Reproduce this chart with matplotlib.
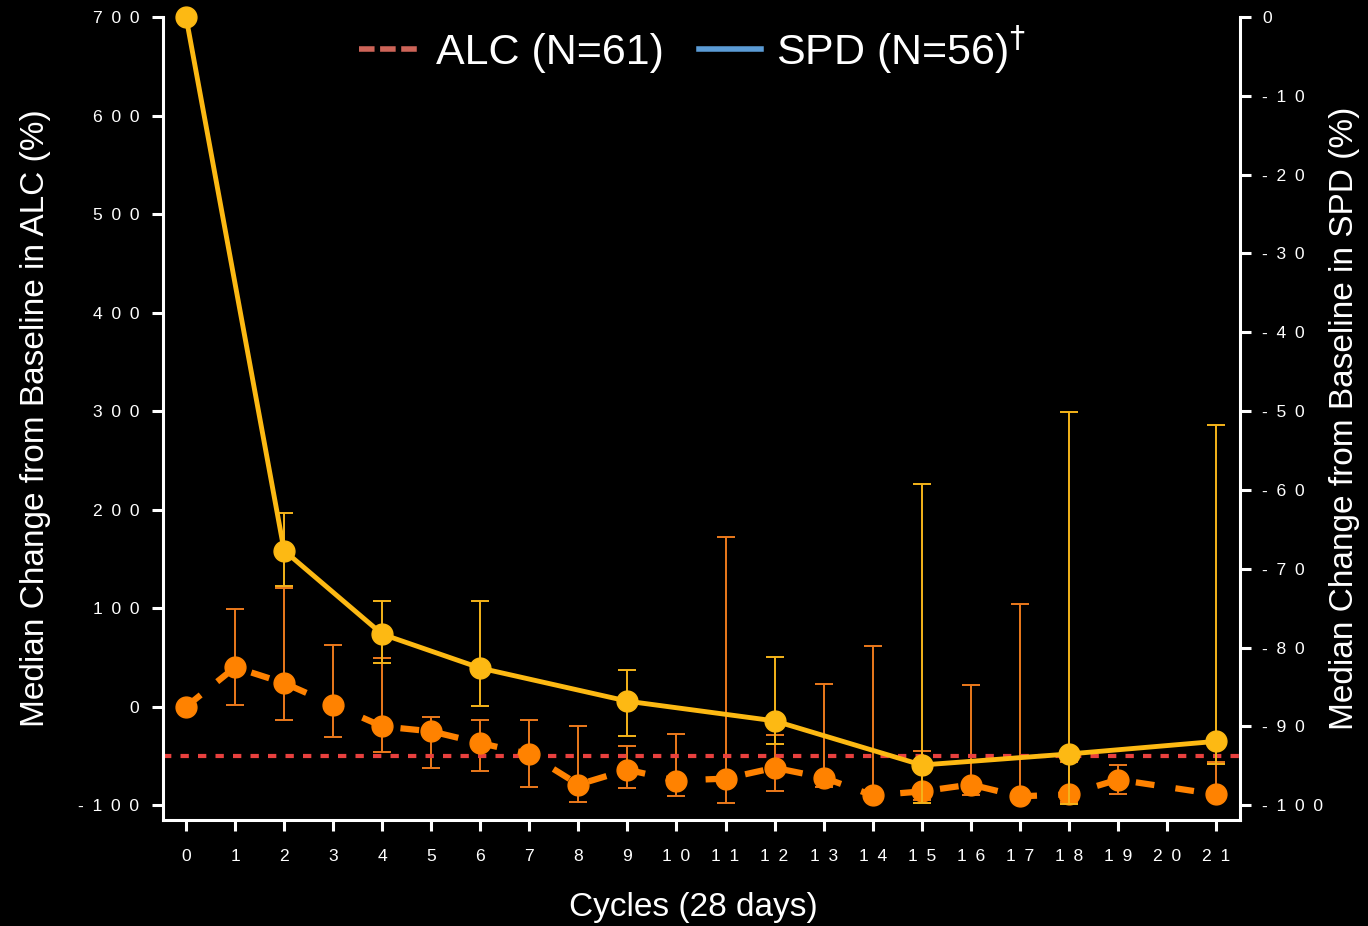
import matplotlib
matplotlib.use('Agg')
import matplotlib.pyplot as plt
from matplotlib.lines import Line2D
import numpy as np

plt.rcParams['font.family'] = ['Liberation Sans', 'DejaVu Sans']

## ALC (left axis, orange dashed)
alc_cycles = [0, 1, 2, 3, 4, 5, 6, 7, 8, 9, 10, 11, 12, 13, 14, 15, 16, 17, 18, 19, 21]
alc_median = [0, 40, 24, 2, -20, -25, -37, -48, -79, -64, -75, -73, -62, -72, -90, -86, -79, -91, -89, -74, -89]
alc_upper = [0, 99, 120, 63, 49, -10, -13, -14, -20, -40, -28, 172, -29, 23, 62, -45, 22, 104, -56, -59, -56]
alc_lower = [0, 2, -13, -31, -46, -62, -65, -82, -97, -83, -91, -98, -86, -82, -95, -95, -90, -94, -97, -89, -94]

## SPD (right axis, yellow solid)
spd_cycles = [0, 2, 4, 6, 9, 12, 15, 18, 21]
spd_median = [0, -67.7, -78.3, -82.6, -86.8, -89.3, -94.9, -93.5, -91.9]
spd_upper = [0, -62.9, -74.1, -74.1, -82.9, -81.2, -59.3, -50.1, -51.8]
spd_lower = [0, -72.2, -82.0, -87.4, -91.2, -92.2, -99.7, -99.8, -94.8]

alc_ref = -50
xticks = list(range(0, 22))
alc_ticks = [-100, 0, 100, 200, 300, 400, 500, 600, 700]
spd_ticks = [0, -10, -20, -30, -40, -50, -60, -70, -80, -90, -100]

orange = '#FF8200'
orange_err = '#EC7A1C'
gold = '#FDB913'
gold_err = '#F5B41A'
red = '#E8403E'

def spaced(v):
    # letter-spaced tick labels like the original
    return '\u2002'.join(str(int(v)))

fig = plt.figure(figsize=(13.68, 9.26), dpi=100, facecolor='black')
ax = fig.add_axes([163/1368, 1-820/926, (1240-163)/1368, (820-17)/926])
ax.set_facecolor('black')
ax2 = ax.twinx()
ax2.patch.set_visible(False)

ylo, yhi = -115, 700
ax.set_ylim(ylo, yhi)
ax2.set_ylim((ylo-700)/8, (yhi-700)/8)
ax.set_xlim(-0.47, 21.49)

# reference line
ax.axhline(alc_ref, color=red, lw=3, ls=(0, (2, 2.2)), zorder=2)

# ALC
a_med = np.array(alc_median, dtype=float)
a_err = [a_med[1:] - np.array(alc_lower[1:]), np.array(alc_upper[1:]) - a_med[1:]]
ax.errorbar(alc_cycles[1:], a_med[1:], yerr=a_err, fmt='none', ecolor=orange_err,
            elinewidth=1.4, capsize=6.8, capthick=1.4, zorder=1)
ax.plot(alc_cycles, alc_median, color=orange, lw=4.5, ls=(0, (3, 3.4)),
        marker='o', ms=15, zorder=3, clip_on=False)

# SPD
s_med = np.array(spd_median, dtype=float)
s_err = [s_med[1:] - np.array(spd_lower[1:]), np.array(spd_upper[1:]) - s_med[1:]]
ax2.errorbar(spd_cycles[1:], s_med[1:], yerr=s_err, fmt='none', ecolor=gold_err,
             elinewidth=1.4, capsize=6.8, capthick=1.4, zorder=1)
ax2.plot(spd_cycles, spd_median, color=gold, lw=3.5, marker='o', ms=15, zorder=3, clip_on=False)

# spines and ticks
for a in (ax, ax2):
    a.spines['top'].set_visible(False)
    for s in ('left', 'right', 'bottom'):
        a.spines[s].set_color('white')
        a.spines[s].set_linewidth(2.2)
ax.spines['right'].set_visible(False)
ax2.spines['left'].set_visible(False)
ax2.spines['bottom'].set_visible(False)

ax.set_xticks(xticks)
ax.set_xticklabels([spaced(v) for v in xticks])
ax.set_yticks(alc_ticks)
ax.set_yticklabels([spaced(v) for v in alc_ticks])
ax2.set_yticks(spd_ticks)
ax2.set_yticklabels([spaced(v) for v in spd_ticks])

ax.tick_params(axis='x', colors='white', length=8, width=2.2, pad=13, labelsize=12.6)
ax.tick_params(axis='y', colors='white', length=8, width=2.2, pad=9, labelsize=12.6)
ax2.tick_params(axis='y', colors='white', length=8, width=2.2, pad=8, labelsize=12.6)

ax.set_xlabel('Cycles (28 days)', color='white', fontsize=24, labelpad=18)
ax.xaxis.set_label_coords(0.4926, -0.09)
ax.set_ylabel('Median Change from Baseline in ALC (%)', color='white', fontsize=24, labelpad=20)
ax2.set_ylabel('Median Change from Baseline in SPD (%)', color='white', fontsize=24, labelpad=4)

handles = [Line2D([], [], color='#CD6458', lw=4, ls=(0, (2.8, 1.0))),
           Line2D([], [], color='#5B9BD5', lw=4)]
labels = ['ALC (N=61)', r'SPD (N=56)$^{\dagger}$']
fig.legend(handles, labels, loc='center', bbox_to_anchor=(0.506, 0.946), ncol=2,
           frameon=False, fontsize=31, labelcolor='white', handlelength=1.45,
           handletextpad=0.35, columnspacing=0.8)

fig.savefig('out.png', dpi=100, facecolor='black')
